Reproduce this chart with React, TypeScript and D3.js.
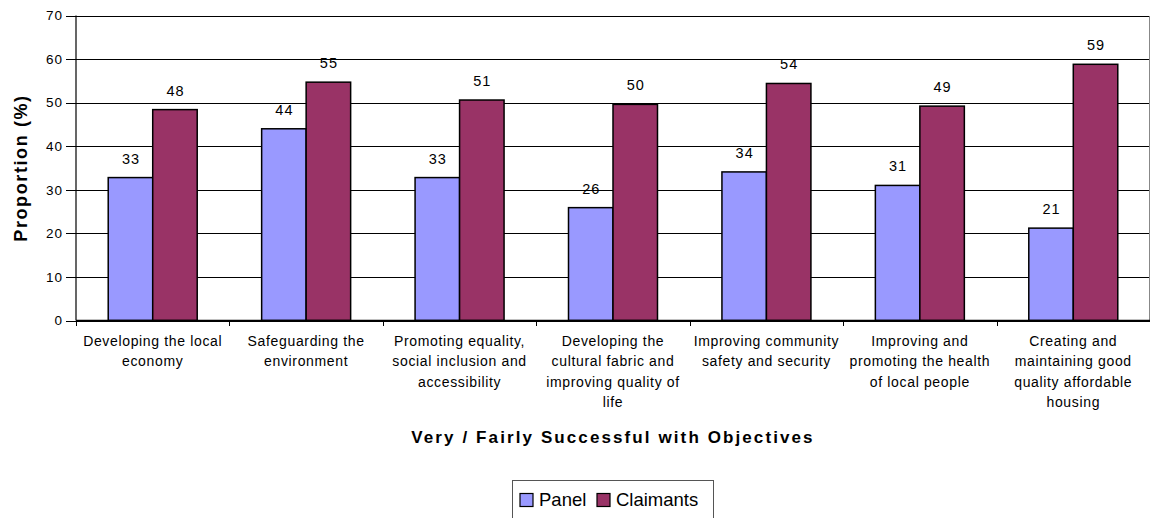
import React from "react";
import * as d3 from "d3";

const categories: string[][] = [
  ["Developing the local", "economy"],
  ["Safeguarding the", "environment"],
  ["Promoting equality,", "social inclusion and", "accessibility"],
  ["Developing the", "cultural fabric and", "improving quality of", "life"],
  ["Improving community", "safety and security"],
  ["Improving and", "promoting the health", "of local people"],
  ["Creating and", "maintaining good", "quality affordable", "housing"],
];
const panelValues = [32.8, 44.0, 32.8, 25.9, 34.1, 31.0, 21.2];
const claimantValues = [48.4, 54.7, 50.6, 49.6, 54.4, 49.2, 58.8];
const seriesNames = ["Panel", "Claimants"];
const seriesColors = ["#9999FF", "#993366"];
const yTicks = [0, 10, 20, 30, 40, 50, 60, 70];
const xTitle = "Very / Fairly Successful with Objectives";
const yTitle = "Proportion (%)";

const W = 1151;
const H = 518;
const left = 76;
const right = 1150;
const top = 15.5;
const bottom = 320.5;
const FONT = "'Liberation Sans', Arial, sans-serif";

export default function App() {
  const y = d3.scaleLinear().domain([0, 70]).range([bottom, top]);
  const x0 = d3
    .scaleBand<number>()
    .domain(categories.map((_, i) => i))
    .range([left, right])
    .paddingInner(0)
    .paddingOuter(0);
  const bw = x0.bandwidth();
  const groupW = bw * 0.58;
  const x1 = d3
    .scaleBand<number>()
    .domain([0, 1])
    .range([(bw - groupW) / 2, (bw + groupW) / 2]);
  const series = [panelValues, claimantValues];

  return (
    <div style={{ position: "fixed", left: 0, top: 0 }}>
      <svg width={W} height={H} style={{ display: "block", background: "#fff" }} fontFamily={FONT}>
        {/* gridlines */}
        {yTicks.map((t) => (
          <line
            key={"g" + t}
            x1={left}
            x2={right}
            y1={Math.round(y(t)) + 0.5}
            y2={Math.round(y(t)) + 0.5}
            stroke="#000"
            strokeWidth={1}
            shapeRendering="crispEdges"
          />
        ))}
        {/* right border */}
        <line x1={right - 0.5} x2={right - 0.5} y1={y(70)} y2={y(0)} stroke="#888" strokeWidth={1} shapeRendering="crispEdges" />
        {/* y tick labels & ticks */}
        {yTicks.map((t) => (
          <g key={"t" + t}>
            <line x1={left - 10} x2={left} y1={Math.round(y(t)) + 0.5} y2={Math.round(y(t)) + 0.5} stroke="#000" shapeRendering="crispEdges" />
            <text x={63} y={y(t)} dy="0.35em" textAnchor="end" fontSize={13.5} letterSpacing={1} fill="#000">
              {t}
            </text>
          </g>
        ))}
        {/* bars */}
        {series.map((vals, s) =>
          vals.map((v, i) => (
            <rect
              key={`b${s}-${i}`}
              x={(x0(i) as number) + (x1(s) as number)}
              y={y(v)}
              width={x1.bandwidth()}
              height={y(0) - y(v)}
              fill={seriesColors[s]}
              stroke="#000"
              strokeWidth={1.5}
            />
          ))
        )}
        {/* value labels */}
        {series.map((vals, s) =>
          vals.map((v, i) => (
            <text
              key={`l${s}-${i}`}
              x={(x0(i) as number) + (x1(s) as number) + x1.bandwidth() / 2 + 0.5}
              y={y(v) - 14}
              textAnchor="middle"
              fontSize={14.5}
              letterSpacing={1}
              fill="#000"
            >
              {Math.round(v)}
            </text>
          ))
        )}
        {/* axes */}
        <line x1={left} x2={left} y1={y(70)} y2={y(0)} stroke="#000" strokeWidth={1.2} />
        <line x1={left} x2={right} y1={y(0)} y2={y(0)} stroke="#000" strokeWidth={1.5} />
        {categories.map((_, i) => (
          <line
            key={"xt" + i}
            x1={(x0(i) as number) + 0.5}
            x2={(x0(i) as number) + 0.5}
            y1={y(0)}
            y2={y(0) + 5}
            stroke="#000"
            shapeRendering="crispEdges"
          />
        ))}
        {/* category labels */}
        {categories.map((lines, i) => (
          <text key={"c" + i} textAnchor="middle" fontSize={14} letterSpacing={0.65} fill="#000">
            {lines.map((ln, j) => (
              <tspan key={j} x={(x0(i) as number) + bw / 2} y={346 + j * 20.4}>
                {ln}
              </tspan>
            ))}
          </text>
        ))}
        {/* axis titles */}
        <text
          x={(left + right) / 2}
          y={443}
          textAnchor="middle"
          fontSize={17}
          fontWeight="bold"
          letterSpacing={2.1}
          fill="#000"
        >
          {xTitle}
        </text>
        <text
          transform={`translate(27,${(top + bottom) / 2}) rotate(-90)`}
          textAnchor="middle"
          fontSize={18}
          fontWeight="bold"
          letterSpacing={1.6}
          fill="#000"
        >
          {yTitle}
        </text>
        {/* legend */}
        <rect x={512.5} y={480.5} width={201} height={50} fill="#fff" stroke="#555" strokeWidth={1} />
        {seriesNames.map((n, s) => {
          const lx = s === 0 ? 520 : 597;
          return (
            <g key={"lg" + s}>
              <rect x={lx} y={493.5} width={13} height={13} fill={seriesColors[s]} stroke="#000" strokeWidth={1.2} />
              <text x={lx + 19} y={505.5} fontSize={18.5} fill="#000">
                {n}
              </text>
            </g>
          );
        })}
      </svg>
    </div>
  );
}
